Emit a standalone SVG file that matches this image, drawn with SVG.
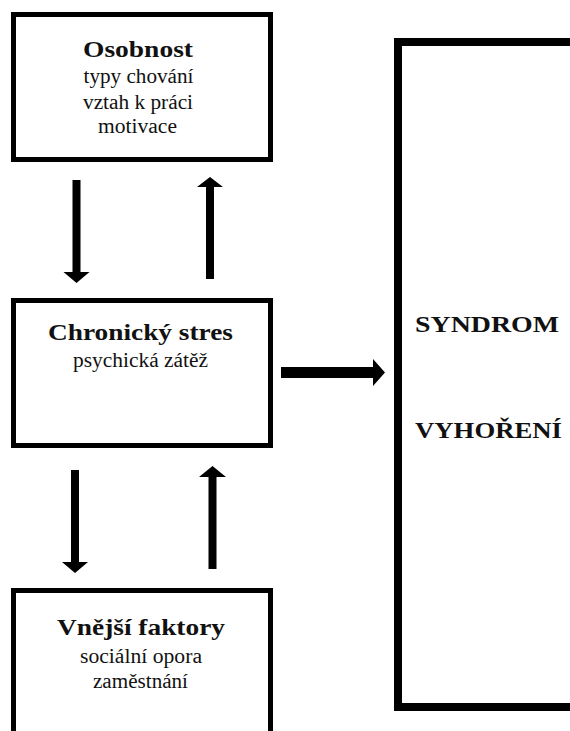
<svg xmlns="http://www.w3.org/2000/svg" width="570" height="731" viewBox="0 0 570 731">
<style>
.box{fill:#fff;stroke:#000;stroke-width:5}
.big{fill:#fff;stroke:#000;stroke-width:8}
.t{font-family:"Liberation Serif","Times New Roman",serif;fill:#111;text-anchor:middle}
.b{font-weight:bold;font-size:24px}
.r{font-size:20px}
.arr{fill:#000}
</style>
<rect width="570" height="731" fill="#fff"/>
<g id="osobnost">
<rect class="box" x="13.5" y="14.5" width="257" height="145"/>
<text class="t b" x="138" y="57" textLength="110" lengthAdjust="spacingAndGlyphs">Osobnost</text>
<text class="t r" x="138.5" y="83" textLength="110" lengthAdjust="spacingAndGlyphs">typy chování</text>
<text class="t r" x="138" y="109" textLength="110" lengthAdjust="spacingAndGlyphs">vztah k práci</text>
<text class="t r" x="137.5" y="133" textLength="79" lengthAdjust="spacingAndGlyphs">motivace</text>
</g>
<g id="chronicky-stres">
<rect class="box" x="13.5" y="300.5" width="257" height="145"/>
<text class="t b" x="140.5" y="340" textLength="185" lengthAdjust="spacingAndGlyphs">Chronický stres</text>
<text class="t r" x="140.5" y="367" textLength="135" lengthAdjust="spacingAndGlyphs">psychická zátěž</text>
</g>
<g id="vnejsi-faktory">
<rect class="box" x="13.5" y="590.5" width="257" height="200"/>
<text class="t b" x="141" y="635" textLength="168" lengthAdjust="spacingAndGlyphs">Vnější faktory</text>
<text class="t r" x="141" y="663" textLength="122" lengthAdjust="spacingAndGlyphs">sociální opora</text>
<text class="t r" x="140.5" y="688" textLength="95" lengthAdjust="spacingAndGlyphs">zaměstnání</text>
</g>
<g id="syndrom-vyhoreni">
<rect class="big" x="398" y="42" width="200" height="665"/>
<text class="t b" x="487" y="332" textLength="144" lengthAdjust="spacingAndGlyphs">SYNDROM</text>
<text class="t b" x="488.5" y="438" textLength="147" lengthAdjust="spacingAndGlyphs">VYHOŘENÍ</text>
</g>
<g id="connectors">
<polygon class="arr" points="72.5,180 80.5,180 80.5,272 89.5,272 76.5,283 63.5,272 72.5,272"/>
<polygon class="arr" points="210,177 223,187 214,187 214,279 206,279 206,187 197,187"/>
<polygon class="arr" points="71,470 79,470 79,562 88,562 75,573 62,562 71,562"/>
<polygon class="arr" points="212.5,466 226,477 216.5,477 216.5,569 208.5,569 208.5,477 199,477"/>
<polygon class="arr" points="281,367 373,367 373,359 385,372.5 373,386 373,378 281,378"/>
</g>
</svg>
